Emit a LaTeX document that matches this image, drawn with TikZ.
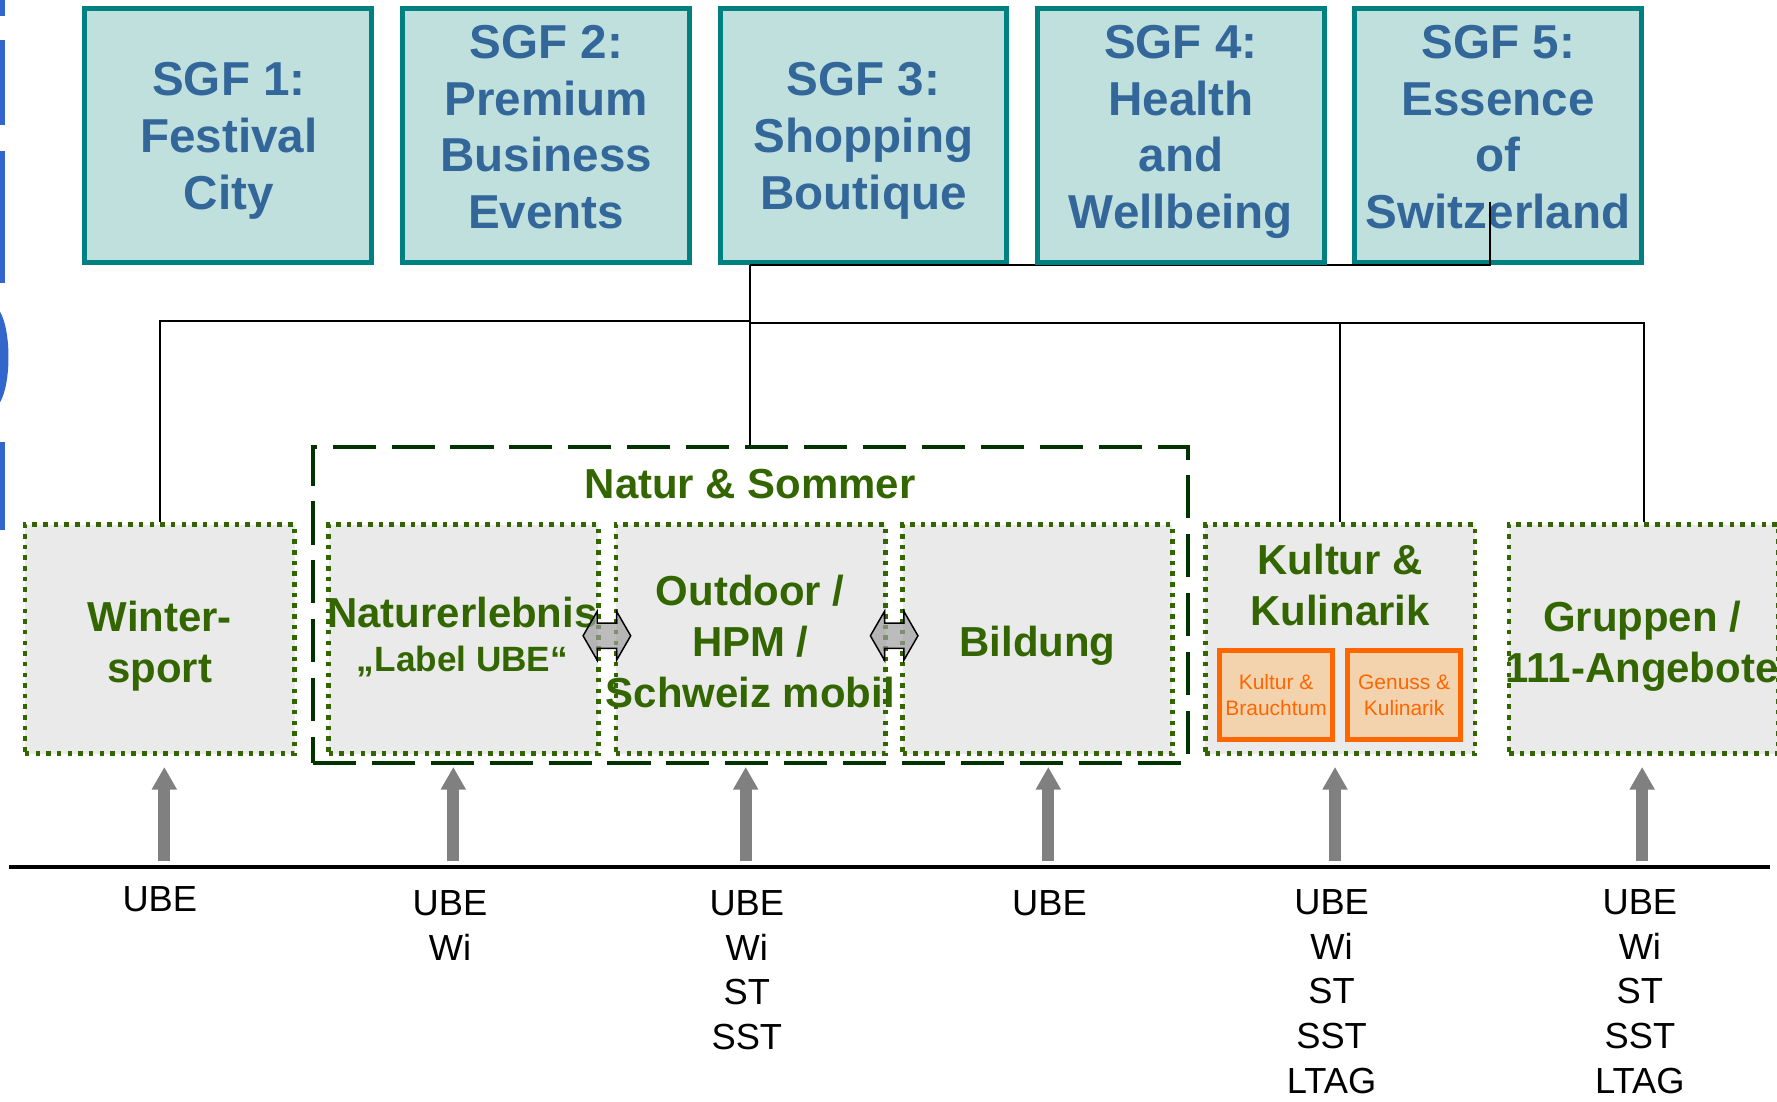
\documentclass[tikz,border=0pt]{standalone}
\usepackage{fontspec}
\setmainfont{Liberation Sans}
\usetikzlibrary{shapes.arrows,arrows.meta,calc}
\definecolor{sgfFill}{HTML}{C0E0DE}
\definecolor{sgfLine}{HTML}{008080}
\definecolor{sgfText}{HTML}{336699}
\definecolor{grn}{HTML}{336600}
\definecolor{dgrn}{HTML}{003300}
\definecolor{boxFill}{HTML}{EAEAEA}
\definecolor{org}{HTML}{FF6600}
\definecolor{orgFill}{HTML}{F2D3AE}
\definecolor{blu}{HTML}{3366CC}
\definecolor{arrGray}{HTML}{808080}
\begin{document}
\begin{tikzpicture}[x=1pt,y=-1pt,
  sgf/.style={draw=sgfLine, line width=4.4pt, fill=sgfFill, minimum width=253pt, minimum height=224.6pt, inner sep=0pt},
  sgftext/.style={text=sgfText, font=\fontsize{42}{50}\selectfont\bfseries, align=center, anchor=north, inner sep=0pt},
  seg/.style={draw=grn, line width=4pt, dash pattern=on 4pt off 5.4pt, fill=boxFill, minimum width=238pt, minimum height=202pt, inner sep=0pt},
  natbox/.style={draw=dgrn, line width=3.5pt, dash pattern=on 38pt off 14pt, minimum width=772pt, minimum height=279.5pt, inner sep=0pt},
  segtext/.style={text=grn, font=\fontsize{37}{45}\selectfont\bfseries, align=center, anchor=north, inner sep=0pt},
  sub/.style={draw=org, line width=4.4pt, fill=orgFill, minimum width=99.6pt, minimum height=78.6pt, inner sep=0pt, text=org, font=\fontsize{18.5}{23}\selectfont, align=center},
  dbl/.style={double arrow, draw=black, line width=1.3pt, fill=gray!75, fill opacity=0.7, minimum height=42pt, minimum width=42pt, inner xsep=0pt, inner ysep=10.5pt, double arrow head extend=10.5pt, double arrow tip angle=120},
  conn/.style={draw=black, line width=1.8pt},
  uparr/.style={draw=arrGray, line width=10.5pt, -{Triangle[width=21pt,length=20pt]}, shorten >=9.75pt},
  lab/.style={text=black, font=\fontsize{32}{39.5}\selectfont, align=center, anchor=north, inner sep=0pt}
]
\useasboundingbox (0,0) rectangle (1568,972);

% blue remnants at the left edge
\fill[blu] (0,0) rectangle (4.5,14);
\fill[blu] (0,35) rectangle (4.5,110);
\fill[blu] (0,133) rectangle (4.5,250);
\fill[blu] (0,275) .. controls (10,292) and (10,338) .. (0,355) -- cycle;
\fill[blu] (0,390) rectangle (4.5,468);

% lower segment boxes
\node[seg] (win) at (141,564) {};
\node[seg] (nat) at (409,564) {};
\node[seg] (out) at (662.5,564) {};
\node[seg] (bil) at (915.5,564) {};
\node[seg] (kul) at (1182.5,564) {};
\node[seg] (gru) at (1450.5,564) {};
\node[natbox] (ns) at (662,533.75) {};

\node[segtext] (ns-t) at (662,414) {Natur \& Sommer};
\node[segtext] (win-t) at (141,530) {Winter-\\sport};
\node[segtext] (nat-t1) at (408,527) {Naturerlebnis};
\node[segtext, font=\fontsize{31}{38}\selectfont\bfseries] (nat-t2) at (408,570) {„Label UBE“};
\node[segtext] (out-t) at (662,507) {Outdoor /\\HPM /\\Schweiz mobil};
\node[segtext] (bil-t) at (915.5,552) {Bildung};
\node[segtext] (kul-t) at (1182.5,480) {Kultur \&\\Kulinarik};
\node[segtext] (gru-t) at (1449,530) {Gruppen /\\111-Angebote};

\node[sub] (kb) at (1126,613.5) {Kultur \&\\Brauchtum};
\node[sub] (gk) at (1239,613.5) {Genuss \&\\Kulinarik};

\node[dbl] (da1) at (535.5,561) {};
\node[dbl] (da2) at (789,561) {};

% top SGF boxes
\node[sgf] (s1) at (201.3,119.5) {};
\node[sgf] (s2) at (482,119.5) {};
\node[sgf] (s3) at (762,119.5) {};
\node[sgf] (s5) at (1322,119.5) {};

\node[sgftext] (s1-t) at (202,55) {SGF 1:\\Festival\\City};
\node[sgftext] (s2-t) at (482,22) {SGF 2:\\Premium\\Business\\Events};
\node[sgftext] (s3-t) at (762,55) {SGF 3:\\Shopping\\Boutique};
\node[sgftext] (s5-t) at (1322,22) {SGF 5:\\Essence\\of\\Switzerland};

% connectors
\coordinate (hubL) at (662,283);
\coordinate (hubR) at (662,285);
\coordinate (k5) at (1315,178);
\draw[conn] (s3.south -| ns.north) -- (ns.north);
\draw[conn] (hubL) -| (win.north);
\draw[conn] (hubR) -| (kul.north);
\draw[conn] (hubR) -| (gru.north);
\draw[conn] (k5) |- (s3.south -| ns.north);

\node[sgf] (s4) at (1042,119.5) {};
\node[sgftext] (s4-t) at (1042,22) {SGF 4:\\Health\\and\\Wellbeing};

% base line
\coordinate (bl) at (8,765);
\coordinate (br) at (1562,765);
\draw[line width=3pt] (bl) -- (br);

% labels
\node[lab] (l1) at (141,782.5) {UBE};
\node[lab] (l2) at (397,785.5) {UBE\\Wi};
\node[lab] (l3) at (659,785.5) {UBE\\Wi\\ST\\SST};
\node[lab] (l4) at (926,785.5) {UBE};
\node[lab] (l5) at (1175,784.5) {UBE\\Wi\\ST\\SST\\LTAG};
\node[lab] (l6) at (1447,784.5) {UBE\\Wi\\ST\\SST\\LTAG};

% upward arrows
\coordinate (a1) at (145,760);
\coordinate (a2) at (400,760);
\coordinate (a3) at (658,760);
\coordinate (a4) at (925,760);
\coordinate (a5) at (1178,760);
\coordinate (a6) at (1449,760);
\draw[uparr] (a1) -- (a1 |- win.south);
\draw[uparr] (a2) -- (a2 |- nat.south);
\draw[uparr] (a3) -- (a3 |- out.south);
\draw[uparr] (a4) -- (a4 |- bil.south);
\draw[uparr] (a5) -- (a5 |- kul.south);
\draw[uparr] (a6) -- (a6 |- gru.south);
\end{tikzpicture}
\end{document}
